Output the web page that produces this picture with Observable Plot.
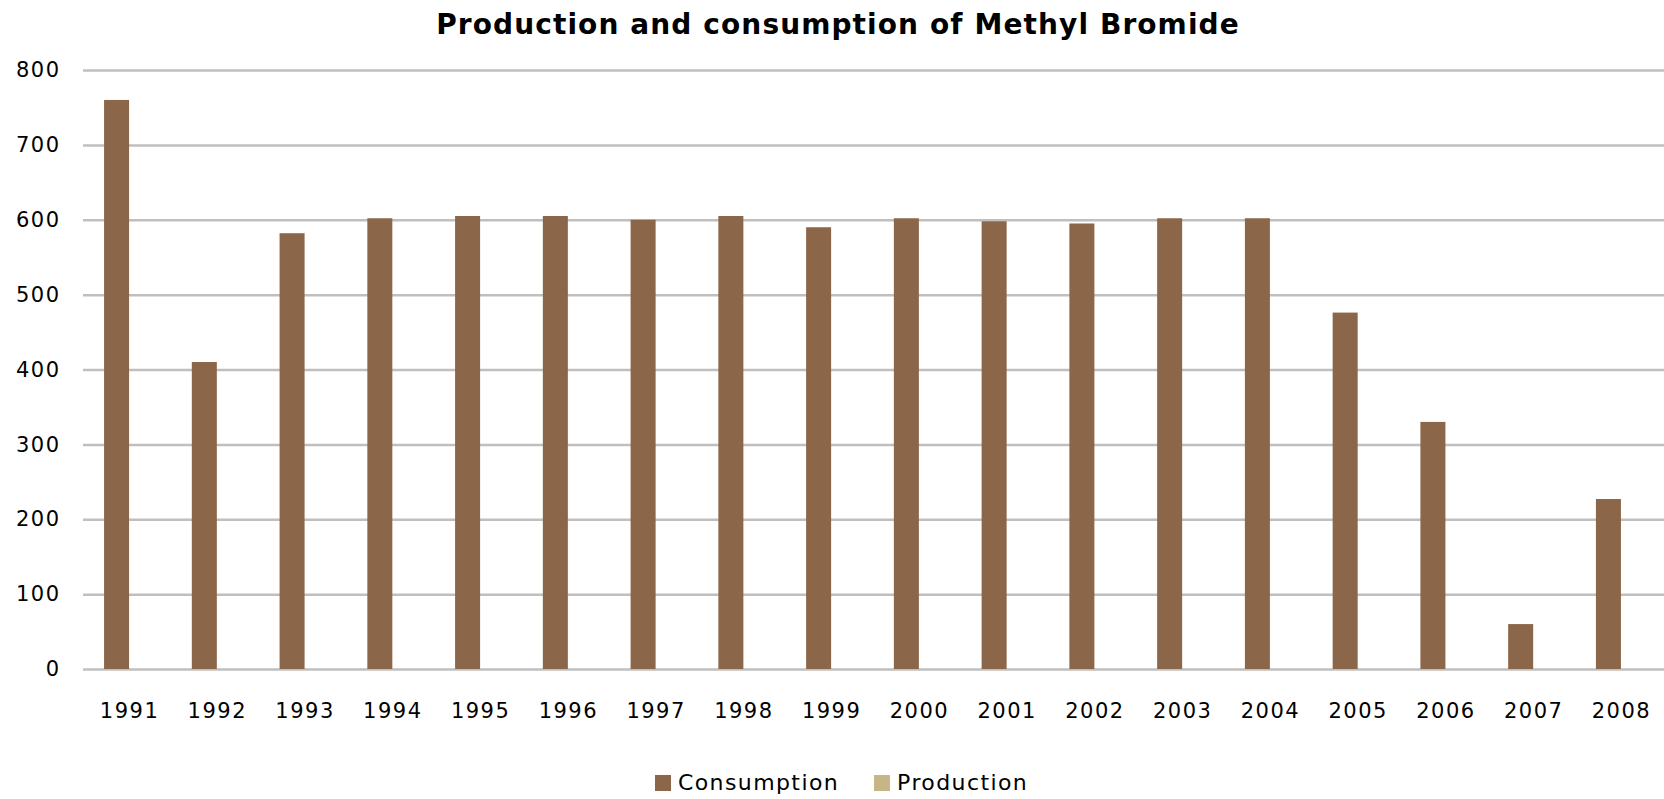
<!DOCTYPE html>
<html>
<head>
<meta charset="utf-8">
<script src="https://cdn.jsdelivr.net/npm/d3@7"></script>
<script src="https://cdn.jsdelivr.net/npm/@observablehq/plot@0.6"></script>
<style>
  html, body { margin: 0; padding: 0; background: #fff; }
  body { width: 1664px; height: 799px; overflow: hidden; font-family: "DejaVu Sans", Verdana, sans-serif; color: #000; }
  #title { height: 46px; position: relative; }
  #title span { position: absolute; left: 0; right: 0; top: 10.6px; text-align: center; font-weight: bold; font-size: 28px; line-height: 1; letter-spacing: 1.1px; padding-left: 12px; }
  #chart svg { display: block; overflow: visible; }
  #chart svg text { letter-spacing: 1.5px; }
  #legend { position: relative; height: 63px; }
  #legend .row { position: absolute; left: 655px; top: 36px; display: flex; align-items: center; font-size: 22px; line-height: 1; letter-spacing: 1.4px; }
  #legend .sw { width: 16px; height: 16px; margin-right: 7px; }
  #legend .item { display: flex; align-items: center; margin-right: 35px; }
</style>
</head>
<body>
<div id="title"><span>Production and consumption of Methyl Bromide</span></div>
<div id="chart"></div>
<div id="legend"><div class="row"></div></div>
<script>
const years = ["1991","1992","1993","1994","1995","1996","1997","1998","1999","2000","2001","2002","2003","2004","2005","2006","2007","2008"];
const consumption = [760, 410, 582, 602, 605, 605, 600, 605, 590, 602, 598, 595, 602, 602, 476, 330, 60, 227];
const production = [0, 0, 0, 0, 0, 0, 0, 0, 0, 0, 0, 0, 0, 0, 0, 0, 0, 0];
const seriesNames = ["Consumption", "Production"];
const seriesColors = ["#8c6649", "#c8b585"];
const yTicks = [0, 100, 200, 300, 400, 500, 600, 700, 800];

const consData = years.map((yr, i) => ({year: yr, series: seriesNames[0], value: consumption[i]}));
const prodData = years.map((yr, i) => ({year: yr, series: seriesNames[1], value: production[i]}));

const W = 1664, H = 690, ML = 83, MR = -3, PI = 0.43, PO = 0.24;
// half of the band width, so the two series sit side by side in each year's band
const band = d3.scaleBand().domain(years).range([ML, W - MR]).paddingInner(PI).paddingOuter(PO);
const half = band.bandwidth() / 2;

const chart = Plot.plot({
  width: W,
  height: H,
  marginLeft: ML,
  marginRight: MR,
  marginTop: 24,
  marginBottom: 67,
  style: {fontFamily: "DejaVu Sans, Verdana, sans-serif", fontSize: "21px", color: "#000", background: "#fff", overflow: "visible"},
  x: {domain: years, paddingInner: PI, paddingOuter: PO, round: false, label: null},
  y: {domain: [0, 800], ticks: yTicks, label: null},
  color: {domain: seriesNames, range: seriesColors},
  marks: [
    Plot.ruleY(yTicks, {stroke: "#bfbfbf", strokeWidth: 2.5}),
    Plot.barY(consData, {x: "year", y: "value", fill: "series", insetRight: half}),
    Plot.barY(prodData, {x: "year", y: "value", fill: "series", insetLeft: half}),
    Plot.axisY({ticks: yTicks, tickSize: 0, tickPadding: 23, fontSize: 21, fill: "#000", label: null}),
    Plot.axisX({anchor: "bottom", tickSize: 0, tickPadding: 34, fontSize: 21, fill: "#000", label: null})
  ]
});
document.getElementById("chart").appendChild(chart);

const row = document.querySelector("#legend .row");
seriesNames.forEach((name, i) => {
  const it = document.createElement("div");
  it.className = "item";
  const sw = document.createElement("div");
  sw.className = "sw";
  sw.style.background = seriesColors[i];
  const tx = document.createElement("span");
  tx.textContent = name;
  it.appendChild(sw);
  it.appendChild(tx);
  row.appendChild(it);
});
</script>
</body>
</html>
